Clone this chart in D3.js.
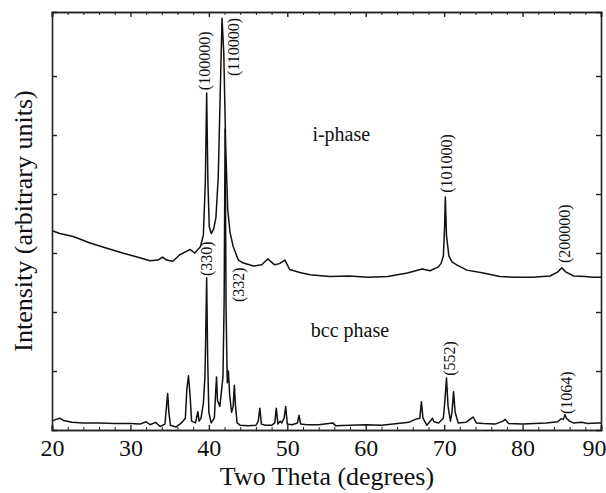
<!DOCTYPE html>
<html>
<head>
<meta charset="utf-8">
<script src="https://cdn.jsdelivr.net/npm/d3@7"></script>
<style>
  html, body { margin: 0; padding: 0; background: #fff; }
  svg { display: block; }
  text { font-family: "Liberation Serif", "Times New Roman", serif; fill: #111; }
</style>
</head>
<body>
<svg id="chart" width="606" height="493"></svg>
<script>
// ---- data (two theta in degrees, intensity in arbitrary units) ----
const iPhaseTheta = [20.0,20.2,21.0,22.7,24.85,27.0,29.0,31.2,32.5,33.5,34.1,34.6,35.4,36.3,37.0,37.6,38.2,38.9,39.3,39.55,39.72,39.88,40.05,40.3,40.6,40.9,41.2,41.45,41.68,41.9,42.15,42.4,42.7,43.1,43.76,44.4,45.7,46.75,47.5,48.4,49.0,49.7,50.3,51.6,52.9,55.4,57.9,60.3,62.8,65.3,67.2,68.2,69.2,69.6,69.9,70.05,70.15,70.3,70.6,71.0,71.6,72.9,75.0,77.1,79.0,81.3,83.5,84.5,85.0,85.5,86.5,88.0,89.0,90.0];
const iPhaseIntensity = [3.38,3.37,3.33,3.28,3.17,3.08,3.0,2.92,2.87,2.88,2.93,2.88,2.86,2.97,3.02,3.06,3.0,3.1,3.3,4.2,5.71,4.2,3.45,3.33,3.4,3.6,4.3,5.7,6.98,6.4,4.8,3.75,3.35,3.11,2.88,2.83,2.78,2.8,2.9,2.8,2.82,2.88,2.72,2.67,2.63,2.6,2.61,2.59,2.6,2.66,2.73,2.7,2.76,2.82,2.95,3.4,3.95,3.3,2.95,2.85,2.8,2.71,2.66,2.6,2.59,2.59,2.61,2.68,2.75,2.68,2.61,2.6,2.59,2.59];

const bccTheta = [20.0,20.5,21.0,21.5,22.5,24,26,28,30,31.2,32.0,32.5,33.2,33.8,34.4,34.6,34.75,34.9,35.1,35.8,36.5,37.0,37.2,37.4,37.6,37.8,38.3,38.5,38.6,38.75,39.0,39.3,39.5,39.6,39.72,39.85,40.0,40.3,40.7,40.85,40.98,41.1,41.4,41.8,41.95,42.07,42.2,42.35,42.49,42.65,42.9,43.1,43.25,43.4,43.6,44,45,46,46.3,46.5,46.7,47.2,48.0,48.4,48.6,48.8,49.1,49.3,49.6,49.8,50.0,50.6,51.3,51.5,51.7,52.5,54,55.8,56.2,58,60,62,63.5,65.5,66.3,66.9,67.1,67.3,67.8,68.3,68.5,68.7,69.3,69.9,70.1,70.3,70.5,70.8,71.0,71.2,71.4,71.8,72.8,73.5,73.7,74.1,75,76.5,77.5,77.8,78.2,80,81.5,83,84.5,84.9,85.2,85.4,85.6,86.0,86.5,87.5,88.3,89.5,90];
const bccIntensity = [0.15,0.18,0.2,0.16,0.13,0.12,0.12,0.11,0.11,0.10,0.14,0.09,0.13,0.06,0.1,0.4,0.62,0.3,0.08,0.05,0.12,0.2,0.7,0.92,0.6,0.15,0.12,0.25,0.31,0.15,0.2,0.45,0.9,1.6,2.58,1.2,0.3,0.12,0.2,0.6,0.9,0.5,0.4,0.9,2.2,5.1,2.0,0.8,1.0,0.6,0.3,0.4,0.76,0.4,0.12,0.08,0.07,0.08,0.15,0.37,0.1,0.08,0.08,0.12,0.37,0.1,0.15,0.12,0.2,0.4,0.1,0.09,0.12,0.25,0.1,0.09,0.09,0.12,0.07,0.08,0.09,0.08,0.1,0.13,0.18,0.2,0.48,0.2,0.08,0.16,0.2,0.14,0.12,0.2,0.5,0.88,0.4,0.15,0.3,0.65,0.3,0.12,0.13,0.2,0.22,0.12,0.11,0.1,0.15,0.18,0.11,0.1,0.11,0.12,0.14,0.19,0.18,0.26,0.2,0.15,0.12,0.13,0.11,0.12,0.12];

const xTicks = [20, 30, 40, 50, 60, 70, 80, 90];
const yTicks = [1, 2, 3, 4, 5, 6];

// peak annotations: label text, anchor two-theta, anchor intensity (text starts here, reads upward)
const peakLabels = ["(100000)", "(110000)", "(101000)", "(200000)", "(330)", "(332)", "(552)", "(1064)"];
const peakLabelTheta = [39.39, 43.09, 70.26, 85.3, 39.64, 43.72, 70.64, 85.56];
const peakLabelIntensity = [5.76, 6.0, 4.02, 2.83, 2.61, 2.17, 0.92, 0.27];

const phaseNames = ["i-phase", "bcc phase"];
const phaseNameTheta = [53.2, 53.0];
const phaseNameIntensity = [4.9, 1.58];

// ---- layout ----
const W = 606, H = 493;
const m = { left: 52, right: 5, top: 12, bottom: 63 };
const svg = d3.select("#chart");
const x = d3.scaleLinear().domain([20, 90]).range([m.left, W - m.right]);
const y = d3.scaleLinear().domain([0, 7.085]).range([H - m.bottom, m.top]);

const ink = "#111";

// curves
const line = d3.line().x(d => x(d[0])).y(d => y(d[1]));
const iData = d3.zip(iPhaseTheta, iPhaseIntensity);
const bData = d3.zip(bccTheta, bccIntensity);

svg.append("path").datum(bData).attr("d", line)
  .attr("fill", "none").attr("stroke", ink).attr("stroke-width", 1.5).attr("stroke-linejoin", "round");
svg.append("path").datum(iData).attr("d", line)
  .attr("fill", "none").attr("stroke", ink).attr("stroke-width", 1.5).attr("stroke-linejoin", "round");

// axes (ticks inward on all four sides)
const gB = svg.append("g").attr("transform", `translate(0,${H - m.bottom})`)
  .call(d3.axisBottom(x).tickValues(xTicks).tickSize(-5).tickPadding(9).tickFormat(d3.format("d")));
const gT = svg.append("g").attr("transform", `translate(0,${m.top})`)
  .call(d3.axisTop(x).tickValues(xTicks).tickSize(-5).tickFormat(""));
const gL = svg.append("g").attr("transform", `translate(${m.left},0)`)
  .call(d3.axisLeft(y).tickValues(yTicks).tickSize(-5).tickFormat(""));
const gR = svg.append("g").attr("transform", `translate(${W - m.right},0)`)
  .call(d3.axisRight(y).tickValues(yTicks).tickSize(-5).tickFormat(""));

// minor x ticks
const minor = d3.range(22, 90, 2).filter(v => v % 10 !== 0);
svg.append("g").attr("transform", `translate(0,${H - m.bottom})`)
  .call(d3.axisBottom(x).tickValues(minor).tickSize(-3).tickFormat(""));
svg.append("g").attr("transform", `translate(0,${m.top})`)
  .call(d3.axisTop(x).tickValues(minor).tickSize(-3).tickFormat(""));

[gB, gT, gL, gR].forEach(g => {
  g.selectAll(".tick line").attr("stroke", "#222").attr("stroke-width", 1.4);
});
svg.selectAll(".domain").attr("stroke", "#222").attr("stroke-width", 1.6);
svg.selectAll(".tick line").attr("stroke", "#222");
gB.selectAll(".tick text").style("font-family", '"Liberation Serif", serif')
  .style("font-size", "24px").attr("fill", ink);
// last label sits against the right edge of the picture
gB.selectAll(".tick text").filter(d => d === 90).attr("text-anchor", "end").attr("x", 5);

// axis titles
svg.append("text").attr("x", 327).attr("y", 485).attr("text-anchor", "middle")
  .style("font-size", "26px").text("Two Theta (degrees)");
svg.append("text").attr("transform", "translate(32,221) rotate(-90)").attr("text-anchor", "middle")
  .style("font-size", "26px").text("Intensity (arbitrary units)");

// phase names
phaseNames.forEach((t, i) => {
  svg.append("text").attr("x", x(phaseNameTheta[i])).attr("y", y(phaseNameIntensity[i]))
    .style("font-size", "20px").text(t);
});

// peak labels (rotated)
peakLabels.forEach((t, i) => {
  svg.append("text")
    .attr("transform", `translate(${x(peakLabelTheta[i])},${y(peakLabelIntensity[i])}) rotate(-90)`)
    .attr("dy", "0.35em")
    .style("font-size", "16px")
    .text(t);
});
</script>
</body>
</html>
